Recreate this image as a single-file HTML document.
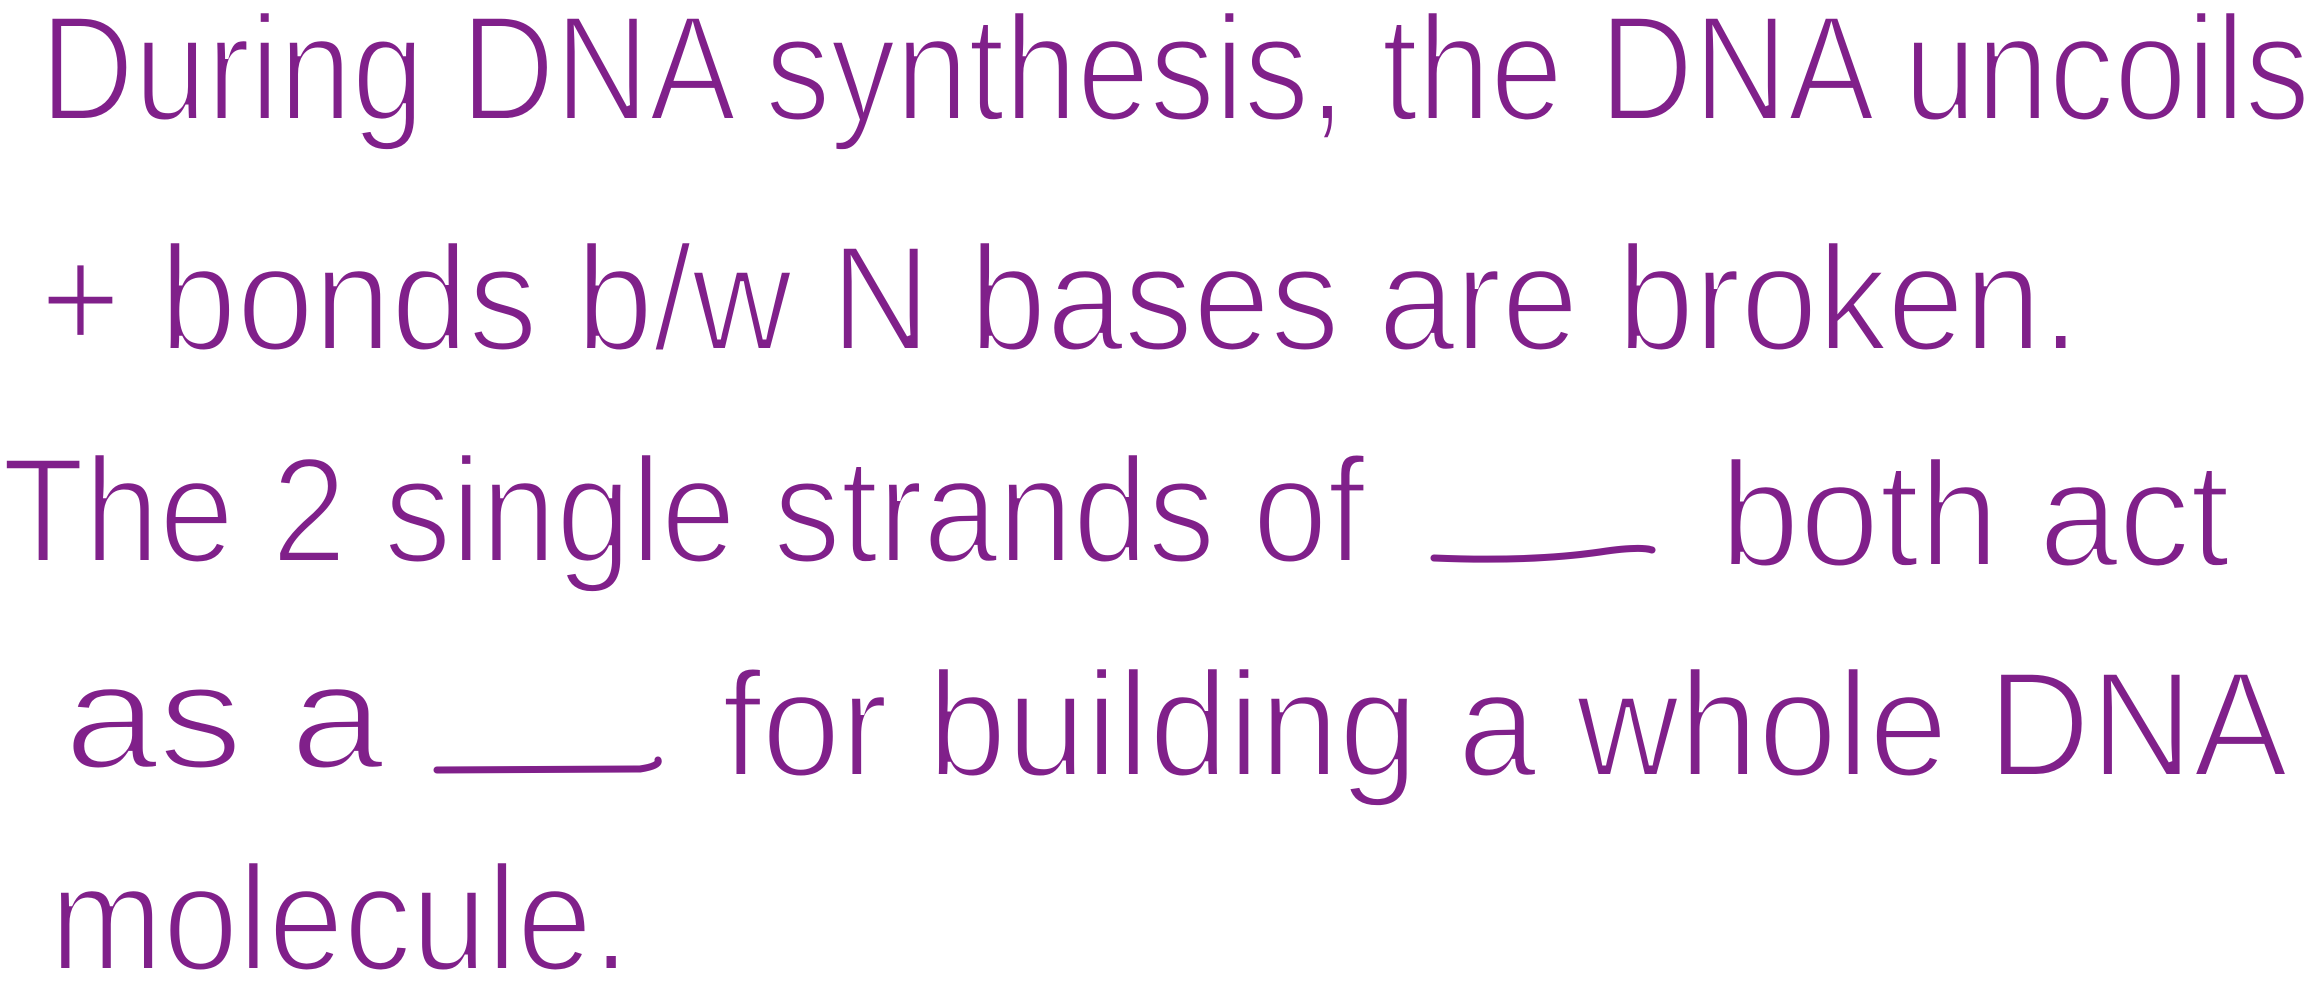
<!DOCTYPE html>
<html><head><meta charset="utf-8"><style>
html,body{margin:0;padding:0;background:#fff;width:2314px;height:1000px;overflow:hidden}
svg text{font-family:"Liberation Sans",sans-serif;fill:#80208a;font-size:150px;stroke:#fff;stroke-width:4px}
</style></head><body>
<svg width="2314" height="1000" xmlns="http://www.w3.org/2000/svg">
<text x="40" y="120" textLength="2270" lengthAdjust="spacingAndGlyphs">During DNA synthesis, the DNA uncoils</text>
<text x="40" y="350" textLength="2040" lengthAdjust="spacingAndGlyphs">+ bonds b/w N bases are broken.</text>
<text x="2" y="562" textLength="1363" lengthAdjust="spacingAndGlyphs">The 2 single strands of</text>
<path d="M1434 558 Q1530 562 1600 552 Q1640 546 1652 550" fill="none" stroke="#80208a" stroke-width="7" stroke-linecap="round"/>
<text x="1720" y="566" textLength="510" lengthAdjust="spacingAndGlyphs">both act</text>
<text x="64" y="768" textLength="320" lengthAdjust="spacingAndGlyphs">as a</text>
<path d="M437 770 L640 769 Q660 766 658 760" fill="none" stroke="#80208a" stroke-width="7" stroke-linecap="round"/>
<text x="722" y="776" textLength="1566" lengthAdjust="spacingAndGlyphs">for building a whole DNA</text>
<text x="50" y="970" textLength="580" lengthAdjust="spacingAndGlyphs">molecule.</text>
</svg>
</body></html>
